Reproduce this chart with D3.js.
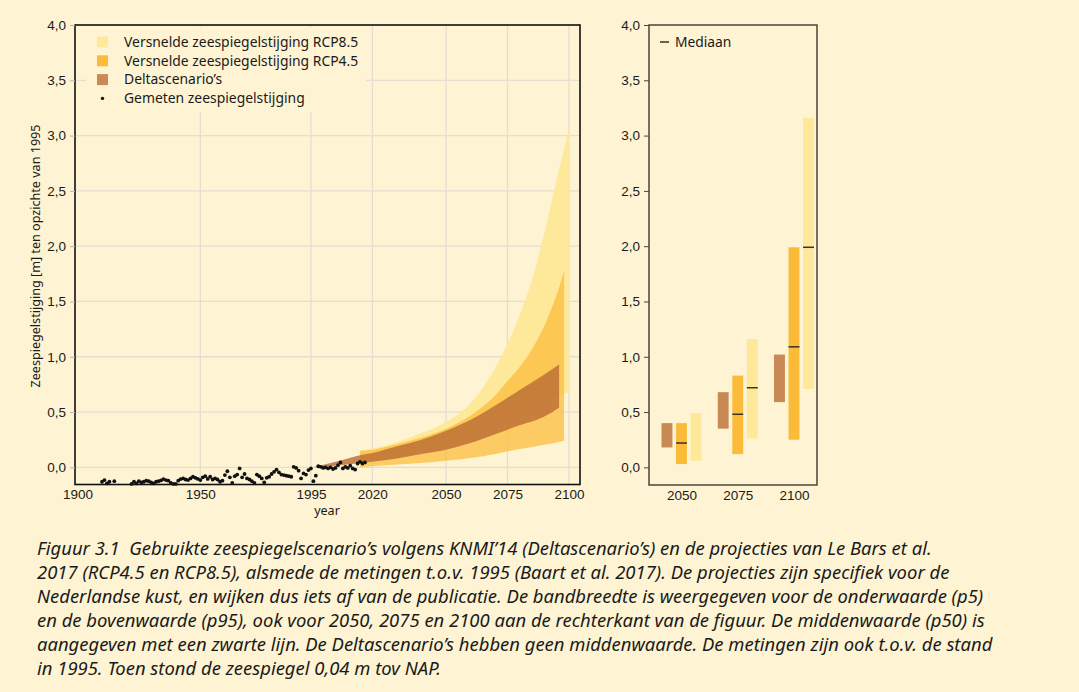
<!DOCTYPE html>
<html>
<head>
<meta charset="utf-8">
<script src="https://cdn.jsdelivr.net/npm/d3@7"></script>
<style>
  body { margin: 0; background: #fef4d3; }
  svg { display: block; font-family: "Noto Sans", "Open Sans", sans-serif; }
</style>
</head>
<body>
<svg id="chart" width="1079" height="692"></svg>
<script>
// ---- data ----
var obsYears = [1910, 1911, 1912, 1913, 1915,
	1922, 1923, 1924, 1925, 1926, 1927, 1928, 1929, 1930, 1931, 1932, 1933, 1934, 1935, 1936, 1937, 1938, 1939,
	1940, 1941, 1942, 1943, 1944, 1945, 1946, 1947, 1948, 1949, 1950, 1951, 1952, 1953, 1954, 1955, 1956, 1957,
	1958, 1959, 1960, 1961, 1962, 1963, 1964, 1965, 1966, 1967, 1968, 1969, 1970, 1971, 1972, 1973, 1974, 1975,
	1976, 1977, 1978, 1979, 1980, 1981, 1982, 1983, 1984, 1985, 1986, 1987, 1988, 1989, 1990, 1991, 1992, 1993,
	1994, 1995, 1996, 1997, 1998, 1999, 2000, 2001, 2002, 2003, 2004, 2005, 2006, 2007, 2008, 2009, 2010, 2011,
	2012, 2013, 2014, 2015, 2016, 2017];
var obsLevels = [-0.13, -0.115, -0.145, -0.13, -0.125,
	-0.150, -0.130, -0.145, -0.125, -0.135, -0.130, -0.120, -0.125, -0.135, -0.145, -0.130, -0.125, -0.118, -0.106, -0.115, -0.120, -0.140, -0.150,
	-0.150, -0.120, -0.106, -0.100, -0.110, -0.115, -0.100, -0.085, -0.095, -0.105, -0.115, -0.090, -0.080, -0.105, -0.085, -0.110, -0.100, -0.110,
	-0.130, -0.120, -0.070, -0.035, -0.090, -0.140, -0.080, -0.065, -0.010, -0.090, -0.060, -0.100, -0.110, -0.125, -0.140, -0.065, -0.080, -0.100,
	-0.135, -0.095, -0.085, -0.060, -0.040, -0.020, -0.045, -0.065, -0.070, -0.075, -0.080, -0.085, 0.005, -0.005, -0.030, -0.100, -0.055, -0.065,
	-0.025, -0.010, -0.125, -0.075, 0.010, 0.005, -0.005, 0.000, -0.010, 0.000, -0.015, -0.005, 0.020, 0.045, -0.010, 0.005, -0.005, 0.015,
	-0.010, -0.020, 0.035, 0.050, 0.035, 0.045];

var rcp85Years = [2015, 2020, 2030, 2040, 2050, 2060, 2065, 2070, 2075, 2080, 2085, 2090, 2095, 2100];
var rcp85Upper = [0.15, 0.17, 0.23, 0.31, 0.41, 0.58, 0.72, 0.90, 1.12, 1.38, 1.70, 2.12, 2.60, 3.05];
var rcp85Lower = [0.06, 0.07, 0.12, 0.17, 0.22, 0.30, 0.35, 0.40, 0.45, 0.50, 0.55, 0.60, 0.64, 0.68];

var rcp45Years = [2015, 2020, 2030, 2040, 2050, 2060, 2070, 2075, 2080, 2085, 2090, 2095, 2098];
var rcp45Upper = [0.15, 0.16, 0.21, 0.27, 0.35, 0.47, 0.65, 0.78, 0.91, 1.07, 1.28, 1.56, 1.77];
var rcp45Lower = [0.0, 0.01, 0.025, 0.04, 0.06, 0.085, 0.12, 0.145, 0.165, 0.185, 0.205, 0.225, 0.24];

var deltaYears = [1996, 2005, 2015, 2020, 2030, 2040, 2050, 2060, 2070, 2075, 2080, 2090, 2096];
var deltaUpper = [0.0, 0.05, 0.11, 0.13, 0.19, 0.25, 0.33, 0.43, 0.56, 0.63, 0.70, 0.84, 0.93];
var deltaLower = [0.0, 0.015, 0.04, 0.05, 0.08, 0.12, 0.16, 0.22, 0.30, 0.34, 0.38, 0.46, 0.54];

// right panel: p5 / p50 / p95 per horizon
var horizons = ["2050", "2075", "2100"];
var deltaBarLo = [0.18, 0.35, 0.59], deltaBarHi = [0.40, 0.68, 1.02];
var rcp45BarLo = [0.03, 0.12, 0.25], rcp45BarMed = [0.22, 0.48, 1.09], rcp45BarHi = [0.40, 0.83, 1.99];
var rcp85BarLo = [0.06, 0.26, 0.71], rcp85BarMed = [null, 0.72, 1.99], rcp85BarHi = [0.49, 1.16, 3.16];

var yTicks = [0, 0.5, 1, 1.5, 2, 2.5, 3, 3.5, 4];
var xTicks = [1900, 1950, 1995, 2020, 2050, 2075, 2100];

var legendLabels = ["Versnelde zeespiegelstijging RCP8.5", "Versnelde zeespiegelstijging RCP4.5", "Deltascenario\u2019s", "Gemeten zeespiegelstijging"];

var caption = [
	"Figuur 3.1  Gebruikte zeespiegelscenario\u2019s volgens KNMI\u201914 (Deltascenario\u2019s) en de projecties van Le Bars et al.",
	"2017 (RCP4.5 en RCP8.5), alsmede de metingen t.o.v. 1995 (Baart et al. 2017). De projecties zijn specifiek voor de",
	"Nederlandse kust, en wijken dus iets af van de publicatie. De bandbreedte is weergegeven voor de onderwaarde (p5)",
	"en de bovenwaarde (p95), ook voor 2050, 2075 en 2100 aan de rechterkant van de figuur. De middenwaarde (p50) is",
	"aangegeven met een zwarte lijn. De Deltascenario\u2019s hebben geen middenwaarde. De metingen zijn ook t.o.v. de stand",
	"in 1995. Toen stond de zeespiegel 0,04 m tov NAP."
];

// ---- colours ----
var bg = "#fef4d3",
	col85 = "#fee99a",
	col45 = "#fbbb38",
	colDelta = "#bc6e36",
	gridCol = "#e4ded0";

var svg = d3.select("#chart");
svg.append("rect").attr("width", 1079).attr("height", 692).attr("fill", bg);

var fmt = function(d) { return d3.format(".1f")(d).replace(".", ","); };

// ---- left panel ----
var L = {left: 75, right: 580, top: 25, bottom: 484.5};
var x = d3.scaleLinear().domain([1899, 2104.5]).range([L.left, L.right]);
var y = d3.scaleLinear().domain([-0.155, 4.0]).range([L.bottom, L.top]);

var gLeft = svg.append("g");

gLeft.append("g").selectAll("line.h").data(yTicks.filter(function(d) { return d > 0 && d < 4; }).concat([0]))
	.enter().append("line")
	.attr("x1", L.left).attr("x2", L.right)
	.attr("y1", function(d) { return y(d); }).attr("y2", function(d) { return y(d); })
	.attr("stroke", gridCol).attr("stroke-width", 1.3);
gLeft.append("g").selectAll("line.v").data(xTicks.slice(1))
	.enter().append("line")
	.attr("x1", function(d) { return x(d); }).attr("x2", function(d) { return x(d); })
	.attr("y1", L.top).attr("y2", L.bottom)
	.attr("stroke", gridCol).attr("stroke-width", 1.3);

// legend background hides the grid behind it
gLeft.append("rect").attr("x", 86).attr("y", 27).attr("width", 280).attr("height", 85).attr("fill", bg);

function band(years, lo, hi) {
	var rows = years.map(function(yr, i) { return {yr: yr, lo: lo[i], hi: hi[i]}; });
	return d3.area()
		.curve(d3.curveMonotoneX)
		.x(function(d) { return x(d.yr); })
		.y0(function(d) { return y(d.lo); })
		.y1(function(d) { return y(d.hi); })(rows);
}

gLeft.append("path").attr("d", band(rcp85Years, rcp85Lower, rcp85Upper)).attr("fill", col85);
gLeft.append("path").attr("d", band(rcp45Years, rcp45Lower, rcp45Upper)).attr("fill", col45).attr("fill-opacity", 0.72);
gLeft.append("path").attr("d", band(deltaYears, deltaLower, deltaUpper)).attr("fill", colDelta).attr("fill-opacity", 0.82);

gLeft.append("g").selectAll("circle").data(obsYears)
	.enter().append("circle")
	.attr("cx", function(d) { return x(d); })
	.attr("cy", function(d, i) { return y(obsLevels[i]); })
	.attr("r", 1.9)
	.attr("fill", "#111");

gLeft.append("rect")
	.attr("x", L.left).attr("y", L.top)
	.attr("width", L.right - L.left).attr("height", L.bottom - L.top)
	.attr("fill", "none").attr("stroke", "#111").attr("stroke-width", 1.6);

var yAxisL = gLeft.append("g").attr("transform", "translate(" + L.left + ",0)")
	.call(d3.axisLeft(y).tickValues(yTicks).tickFormat(fmt).tickSize(5).tickPadding(4));
yAxisL.select(".domain").remove();
yAxisL.selectAll(".tick line").attr("stroke", "#bbb5a8");
yAxisL.selectAll("text").attr("font-size", 13.5).attr("fill", "#1a1a1a");

var xAxisL = gLeft.append("g").attr("transform", "translate(0," + L.bottom + ")")
	.call(d3.axisBottom(x).tickValues(xTicks).tickFormat(d3.format("d")).tickSize(0).tickPadding(5));
xAxisL.select(".domain").remove();
xAxisL.selectAll("text").attr("font-size", 13.5).attr("fill", "#1a1a1a");

gLeft.append("text").attr("x", 327).attr("y", 515).attr("text-anchor", "middle")
	.attr("font-size", 12.5).attr("fill", "#1a1a1a").text("year");

gLeft.append("text")
	.attr("transform", "translate(40,256) rotate(-90)")
	.attr("text-anchor", "middle")
	.attr("font-size", 12.6).attr("fill", "#1a1a1a")
	.text("Zeespiegelstijging [m] ten opzichte van 1995");

// legend
var legendFill = [col85, col45, "#c98a55", null];
var leg = gLeft.append("g").selectAll("g").data(legendLabels).enter().append("g")
	.attr("transform", function(d, i) { return "translate(97," + (42 + i * 18.8) + ")"; });
leg.each(function(d, i) {
	var g = d3.select(this);
	if (legendFill[i]) {
		g.append("rect").attr("x", 0).attr("y", -5.5).attr("width", 11).attr("height", 11).attr("fill", legendFill[i]);
	} else {
		g.append("circle").attr("cx", 5.5).attr("cy", 0).attr("r", 1.7).attr("fill", "#111");
	}
	g.append("text").attr("x", 27).attr("y", 4.8).attr("font-size", 13.9).attr("fill", "#1a1a1a").text(d);
});

// ---- right panel ----
var R = {left: 649, right: 817, top: 25, bottom: 485};
var gRight = svg.append("g");
var xr = d3.scalePoint().domain(horizons).range([681.5, 794]);
var xs = d3.scaleBand().domain(["delta", "rcp45", "rcp85"]).range([-20, 20]).paddingInner(0.25);

var bars = [];
horizons.forEach(function(h, i) {
	bars.push({h: h, s: "delta", lo: deltaBarLo[i], hi: deltaBarHi[i], med: null, fill: colDelta, op: 0.8});
	bars.push({h: h, s: "rcp45", lo: rcp45BarLo[i], hi: rcp45BarHi[i], med: rcp45BarMed[i], fill: col45, op: 1});
	bars.push({h: h, s: "rcp85", lo: rcp85BarLo[i], hi: rcp85BarHi[i], med: rcp85BarMed[i], fill: col85, op: 1});
});

gRight.selectAll("rect.bar").data(bars).enter().append("rect")
	.attr("x", function(d) { return xr(d.h) + xs(d.s); })
	.attr("width", xs.bandwidth())
	.attr("y", function(d) { return y(d.hi); })
	.attr("height", function(d) { return y(d.lo) - y(d.hi); })
	.attr("fill", function(d) { return d.fill; })
	.attr("fill-opacity", function(d) { return d.op; });

gRight.selectAll("line.med").data(bars.filter(function(d) { return d.med != null; })).enter().append("line")
	.attr("x1", function(d) { return xr(d.h) + xs(d.s); })
	.attr("x2", function(d) { return xr(d.h) + xs(d.s) + xs.bandwidth(); })
	.attr("y1", function(d) { return y(d.med); })
	.attr("y2", function(d) { return y(d.med); })
	.attr("stroke", "#3a3226").attr("stroke-width", 1.5);

gRight.append("rect")
	.attr("x", R.left).attr("y", R.top)
	.attr("width", R.right - R.left).attr("height", R.bottom - R.top)
	.attr("fill", "none").attr("stroke", "#4a4538").attr("stroke-width", 1.5);

var yAxisR = gRight.append("g").attr("transform", "translate(" + R.left + ",0)")
	.call(d3.axisLeft(y).tickValues(yTicks).tickFormat(fmt).tickSize(5).tickPadding(4));
yAxisR.select(".domain").remove();
yAxisR.selectAll(".tick line").attr("stroke", "#4a4538");
yAxisR.selectAll("text").attr("font-size", 13.5).attr("fill", "#1a1a1a");

var xAxisR = gRight.append("g").attr("transform", "translate(0," + R.bottom + ")")
	.call(d3.axisBottom(xr).tickSize(0).tickPadding(5));
xAxisR.select(".domain").remove();
xAxisR.selectAll("text").attr("font-size", 13.5).attr("fill", "#1a1a1a");

gRight.append("line").attr("x1", 660).attr("x2", 669).attr("y1", 42).attr("y2", 42)
	.attr("stroke", "#3a3226").attr("stroke-width", 1.5);
gRight.append("text").attr("x", 675).attr("y", 47).attr("font-size", 13.8).attr("fill", "#1a1a1a").text("Mediaan");

// ---- caption ----
var cap = svg.append("g").attr("font-style", "italic").attr("fill", "#1a1a1a");
var capLines = cap.selectAll("text").data(caption).enter().append("text")
	.attr("x", 37)
	.attr("y", function(d, i) { return 555 + i * 24; })
	.style("white-space", "pre")
	.attr("font-size", 17)
	.text(function(d) { return d; });
// size the caption so the longest line ends where it does in the figure
var w = capLines.nodes()[4].getComputedTextLength();
capLines.attr("font-size", 17 * 956 / w);
</script>
</body>
</html>
